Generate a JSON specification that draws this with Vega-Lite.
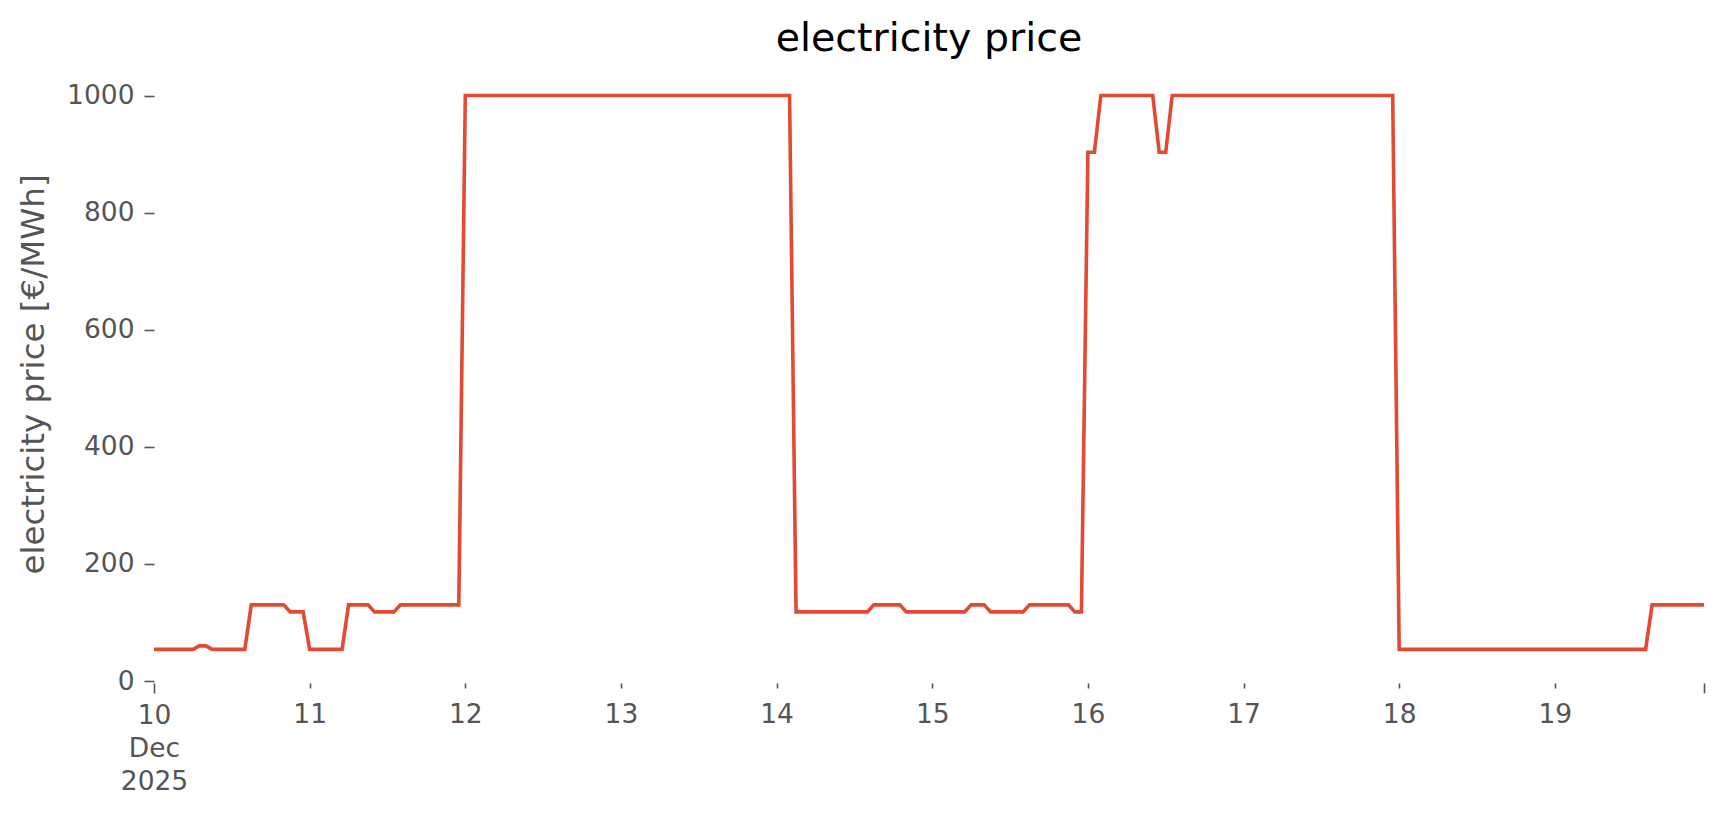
{
  "$schema": "https://vega.github.io/schema/vega-lite/v6.json",
  "autosize": {"type": "none"},
  "padding": {"left": 154, "top": 68, "right": 20, "bottom": 134},
  "width": 1550,
  "height": 613,
  "background": "white",
  "config": {"view": {"stroke": null}, "font": "DejaVu Sans"},
  "title": {"text": "electricity price", "fontSize": 39.5, "font": "DejaVu Sans", "fontWeight": "normal", "color": "#000000", "anchor": "middle", "frame": "group", "baseline": "alphabetic", "offset": 8, "dy": 30},
  "data": {"values": [
    {"t":"2025-12-10T00:00","p":54},{"t":"2025-12-10T01:00","p":54},{"t":"2025-12-10T02:00","p":54},{"t":"2025-12-10T03:00","p":54},{"t":"2025-12-10T04:00","p":54},{"t":"2025-12-10T05:00","p":54},{"t":"2025-12-10T06:00","p":54},{"t":"2025-12-10T07:00","p":60},{"t":"2025-12-10T08:00","p":60},{"t":"2025-12-10T09:00","p":54},{"t":"2025-12-10T10:00","p":54},{"t":"2025-12-10T11:00","p":54},{"t":"2025-12-10T12:00","p":54},{"t":"2025-12-10T13:00","p":54},{"t":"2025-12-10T14:00","p":54},{"t":"2025-12-10T15:00","p":130},{"t":"2025-12-10T16:00","p":130},{"t":"2025-12-10T17:00","p":130},{"t":"2025-12-10T18:00","p":130},{"t":"2025-12-10T19:00","p":130},{"t":"2025-12-10T20:00","p":130},{"t":"2025-12-10T21:00","p":118},{"t":"2025-12-10T22:00","p":118},{"t":"2025-12-10T23:00","p":118},
    {"t":"2025-12-11T00:00","p":54},{"t":"2025-12-11T01:00","p":54},{"t":"2025-12-11T02:00","p":54},{"t":"2025-12-11T03:00","p":54},{"t":"2025-12-11T04:00","p":54},{"t":"2025-12-11T05:00","p":54},{"t":"2025-12-11T06:00","p":130},{"t":"2025-12-11T07:00","p":130},{"t":"2025-12-11T08:00","p":130},{"t":"2025-12-11T09:00","p":130},{"t":"2025-12-11T10:00","p":118},{"t":"2025-12-11T11:00","p":118},{"t":"2025-12-11T12:00","p":118},{"t":"2025-12-11T13:00","p":118},{"t":"2025-12-11T14:00","p":130},{"t":"2025-12-11T15:00","p":130},{"t":"2025-12-11T16:00","p":130},{"t":"2025-12-11T17:00","p":130},{"t":"2025-12-11T18:00","p":130},{"t":"2025-12-11T19:00","p":130},{"t":"2025-12-11T20:00","p":130},{"t":"2025-12-11T21:00","p":130},{"t":"2025-12-11T22:00","p":130},{"t":"2025-12-11T23:00","p":130},
    {"t":"2025-12-12T00:00","p":1000},{"t":"2025-12-12T01:00","p":1000},{"t":"2025-12-12T02:00","p":1000},{"t":"2025-12-12T03:00","p":1000},{"t":"2025-12-12T04:00","p":1000},{"t":"2025-12-12T05:00","p":1000},{"t":"2025-12-12T06:00","p":1000},{"t":"2025-12-12T07:00","p":1000},{"t":"2025-12-12T08:00","p":1000},{"t":"2025-12-12T09:00","p":1000},{"t":"2025-12-12T10:00","p":1000},{"t":"2025-12-12T11:00","p":1000},{"t":"2025-12-12T12:00","p":1000},{"t":"2025-12-12T13:00","p":1000},{"t":"2025-12-12T14:00","p":1000},{"t":"2025-12-12T15:00","p":1000},{"t":"2025-12-12T16:00","p":1000},{"t":"2025-12-12T17:00","p":1000},{"t":"2025-12-12T18:00","p":1000},{"t":"2025-12-12T19:00","p":1000},{"t":"2025-12-12T20:00","p":1000},{"t":"2025-12-12T21:00","p":1000},{"t":"2025-12-12T22:00","p":1000},{"t":"2025-12-12T23:00","p":1000},
    {"t":"2025-12-13T00:00","p":1000},{"t":"2025-12-13T01:00","p":1000},{"t":"2025-12-13T02:00","p":1000},{"t":"2025-12-13T03:00","p":1000},{"t":"2025-12-13T04:00","p":1000},{"t":"2025-12-13T05:00","p":1000},{"t":"2025-12-13T06:00","p":1000},{"t":"2025-12-13T07:00","p":1000},{"t":"2025-12-13T08:00","p":1000},{"t":"2025-12-13T09:00","p":1000},{"t":"2025-12-13T10:00","p":1000},{"t":"2025-12-13T11:00","p":1000},{"t":"2025-12-13T12:00","p":1000},{"t":"2025-12-13T13:00","p":1000},{"t":"2025-12-13T14:00","p":1000},{"t":"2025-12-13T15:00","p":1000},{"t":"2025-12-13T16:00","p":1000},{"t":"2025-12-13T17:00","p":1000},{"t":"2025-12-13T18:00","p":1000},{"t":"2025-12-13T19:00","p":1000},{"t":"2025-12-13T20:00","p":1000},{"t":"2025-12-13T21:00","p":1000},{"t":"2025-12-13T22:00","p":1000},{"t":"2025-12-13T23:00","p":1000},
    {"t":"2025-12-14T00:00","p":1000},{"t":"2025-12-14T01:00","p":1000},{"t":"2025-12-14T02:00","p":1000},{"t":"2025-12-14T03:00","p":118},{"t":"2025-12-14T04:00","p":118},{"t":"2025-12-14T05:00","p":118},{"t":"2025-12-14T06:00","p":118},{"t":"2025-12-14T07:00","p":118},{"t":"2025-12-14T08:00","p":118},{"t":"2025-12-14T09:00","p":118},{"t":"2025-12-14T10:00","p":118},{"t":"2025-12-14T11:00","p":118},{"t":"2025-12-14T12:00","p":118},{"t":"2025-12-14T13:00","p":118},{"t":"2025-12-14T14:00","p":118},{"t":"2025-12-14T15:00","p":130},{"t":"2025-12-14T16:00","p":130},{"t":"2025-12-14T17:00","p":130},{"t":"2025-12-14T18:00","p":130},{"t":"2025-12-14T19:00","p":130},{"t":"2025-12-14T20:00","p":118},{"t":"2025-12-14T21:00","p":118},{"t":"2025-12-14T22:00","p":118},{"t":"2025-12-14T23:00","p":118},
    {"t":"2025-12-15T00:00","p":118},{"t":"2025-12-15T01:00","p":118},{"t":"2025-12-15T02:00","p":118},{"t":"2025-12-15T03:00","p":118},{"t":"2025-12-15T04:00","p":118},{"t":"2025-12-15T05:00","p":118},{"t":"2025-12-15T06:00","p":130},{"t":"2025-12-15T07:00","p":130},{"t":"2025-12-15T08:00","p":130},{"t":"2025-12-15T09:00","p":118},{"t":"2025-12-15T10:00","p":118},{"t":"2025-12-15T11:00","p":118},{"t":"2025-12-15T12:00","p":118},{"t":"2025-12-15T13:00","p":118},{"t":"2025-12-15T14:00","p":118},{"t":"2025-12-15T15:00","p":130},{"t":"2025-12-15T16:00","p":130},{"t":"2025-12-15T17:00","p":130},{"t":"2025-12-15T18:00","p":130},{"t":"2025-12-15T19:00","p":130},{"t":"2025-12-15T20:00","p":130},{"t":"2025-12-15T21:00","p":130},{"t":"2025-12-15T22:00","p":118},{"t":"2025-12-15T23:00","p":118},
    {"t":"2025-12-16T00:00","p":903},{"t":"2025-12-16T01:00","p":903},{"t":"2025-12-16T02:00","p":1000},{"t":"2025-12-16T03:00","p":1000},{"t":"2025-12-16T04:00","p":1000},{"t":"2025-12-16T05:00","p":1000},{"t":"2025-12-16T06:00","p":1000},{"t":"2025-12-16T07:00","p":1000},{"t":"2025-12-16T08:00","p":1000},{"t":"2025-12-16T09:00","p":1000},{"t":"2025-12-16T10:00","p":1000},{"t":"2025-12-16T11:00","p":903},{"t":"2025-12-16T12:00","p":903},{"t":"2025-12-16T13:00","p":1000},{"t":"2025-12-16T14:00","p":1000},{"t":"2025-12-16T15:00","p":1000},{"t":"2025-12-16T16:00","p":1000},{"t":"2025-12-16T17:00","p":1000},{"t":"2025-12-16T18:00","p":1000},{"t":"2025-12-16T19:00","p":1000},{"t":"2025-12-16T20:00","p":1000},{"t":"2025-12-16T21:00","p":1000},{"t":"2025-12-16T22:00","p":1000},{"t":"2025-12-16T23:00","p":1000},
    {"t":"2025-12-17T00:00","p":1000},{"t":"2025-12-17T01:00","p":1000},{"t":"2025-12-17T02:00","p":1000},{"t":"2025-12-17T03:00","p":1000},{"t":"2025-12-17T04:00","p":1000},{"t":"2025-12-17T05:00","p":1000},{"t":"2025-12-17T06:00","p":1000},{"t":"2025-12-17T07:00","p":1000},{"t":"2025-12-17T08:00","p":1000},{"t":"2025-12-17T09:00","p":1000},{"t":"2025-12-17T10:00","p":1000},{"t":"2025-12-17T11:00","p":1000},{"t":"2025-12-17T12:00","p":1000},{"t":"2025-12-17T13:00","p":1000},{"t":"2025-12-17T14:00","p":1000},{"t":"2025-12-17T15:00","p":1000},{"t":"2025-12-17T16:00","p":1000},{"t":"2025-12-17T17:00","p":1000},{"t":"2025-12-17T18:00","p":1000},{"t":"2025-12-17T19:00","p":1000},{"t":"2025-12-17T20:00","p":1000},{"t":"2025-12-17T21:00","p":1000},{"t":"2025-12-17T22:00","p":1000},{"t":"2025-12-17T23:00","p":1000},
    {"t":"2025-12-18T00:00","p":54},{"t":"2025-12-18T01:00","p":54},{"t":"2025-12-18T02:00","p":54},{"t":"2025-12-18T03:00","p":54},{"t":"2025-12-18T04:00","p":54},{"t":"2025-12-18T05:00","p":54},{"t":"2025-12-18T06:00","p":54},{"t":"2025-12-18T07:00","p":54},{"t":"2025-12-18T08:00","p":54},{"t":"2025-12-18T09:00","p":54},{"t":"2025-12-18T10:00","p":54},{"t":"2025-12-18T11:00","p":54},{"t":"2025-12-18T12:00","p":54},{"t":"2025-12-18T13:00","p":54},{"t":"2025-12-18T14:00","p":54},{"t":"2025-12-18T15:00","p":54},{"t":"2025-12-18T16:00","p":54},{"t":"2025-12-18T17:00","p":54},{"t":"2025-12-18T18:00","p":54},{"t":"2025-12-18T19:00","p":54},{"t":"2025-12-18T20:00","p":54},{"t":"2025-12-18T21:00","p":54},{"t":"2025-12-18T22:00","p":54},{"t":"2025-12-18T23:00","p":54},
    {"t":"2025-12-19T00:00","p":54},{"t":"2025-12-19T01:00","p":54},{"t":"2025-12-19T02:00","p":54},{"t":"2025-12-19T03:00","p":54},{"t":"2025-12-19T04:00","p":54},{"t":"2025-12-19T05:00","p":54},{"t":"2025-12-19T06:00","p":54},{"t":"2025-12-19T07:00","p":54},{"t":"2025-12-19T08:00","p":54},{"t":"2025-12-19T09:00","p":54},{"t":"2025-12-19T10:00","p":54},{"t":"2025-12-19T11:00","p":54},{"t":"2025-12-19T12:00","p":54},{"t":"2025-12-19T13:00","p":54},{"t":"2025-12-19T14:00","p":54},{"t":"2025-12-19T15:00","p":130},{"t":"2025-12-19T16:00","p":130},{"t":"2025-12-19T17:00","p":130},{"t":"2025-12-19T18:00","p":130},{"t":"2025-12-19T19:00","p":130},{"t":"2025-12-19T20:00","p":130},{"t":"2025-12-19T21:00","p":130},{"t":"2025-12-19T22:00","p":130},{"t":"2025-12-19T23:00","p":130}
  ]},
  "mark": {"type": "line", "color": "#E24A33", "strokeWidth": 3.6, "interpolate": "linear"},
  "encoding": {
    "x": {
      "field": "t", "type": "temporal",
      "scale": {"domain": [{"year": 2025, "month": 12, "date": 10}, {"year": 2025, "month": 12, "date": 19, "hours": 23}], "nice": false},
      "axis": {
        "title": null, "domain": false, "grid": false, "offset": 2,
        "values": [{"year": 2025, "month": 12, "date": 10}, {"year": 2025, "month": 12, "date": 11}, {"year": 2025, "month": 12, "date": 12}, {"year": 2025, "month": 12, "date": 13}, {"year": 2025, "month": 12, "date": 14}, {"year": 2025, "month": 12, "date": 15}, {"year": 2025, "month": 12, "date": 16}, {"year": 2025, "month": 12, "date": 17}, {"year": 2025, "month": 12, "date": 18}, {"year": 2025, "month": 12, "date": 19}, {"year": 2025, "month": 12, "date": 19, "hours": 23}],
        "labelExpr": "hours(datum.value) == 23 ? '' : (date(datum.value) == 10 ? ['10', 'Dec', '2025'] : '' + date(datum.value))",
        "labelFlush": false, "labelOverlap": false, "labelAlign": "center", "labelBaseline": "top",
        "labelFont": "DejaVu Sans", "labelFontSize": 26.5, "labelColor": "#555555", "labelLineHeight": 33,
        "labelPadding": {"condition": {"test": "hours(datum.value) == 23 || date(datum.value) == 10", "value": 9}, "value": 13},
        "tickColor": "#555555", "tickWidth": 1.6,
        "tickSize": {"condition": {"test": "hours(datum.value) == 23 || date(datum.value) == 10", "value": 10}, "value": 5}
      }
    },
    "y": {
      "field": "p", "type": "quantitative",
      "scale": {"domain": [0, 1047], "nice": false, "zero": true},
      "axis": {
        "title": "electricity price [€/MWh]", "titleFont": "DejaVu Sans", "titleFontSize": 32.5, "titleFontWeight": "normal", "titleColor": "#555555",
        "titleAngle": 270, "titleBaseline": "alphabetic", "titleAlign": "center", "titleX": -111, "titleY": 306,
        "values": [0, 200, 400, 600, 800, 1000], "format": "d",
        "domain": false, "grid": false,
        "labelFont": "DejaVu Sans", "labelFontSize": 26.5, "labelColor": "#555555", "labelPadding": 10,
        "tickColor": "#555555", "tickWidth": 1.6, "tickSize": 10
      }
    }
  }
}
